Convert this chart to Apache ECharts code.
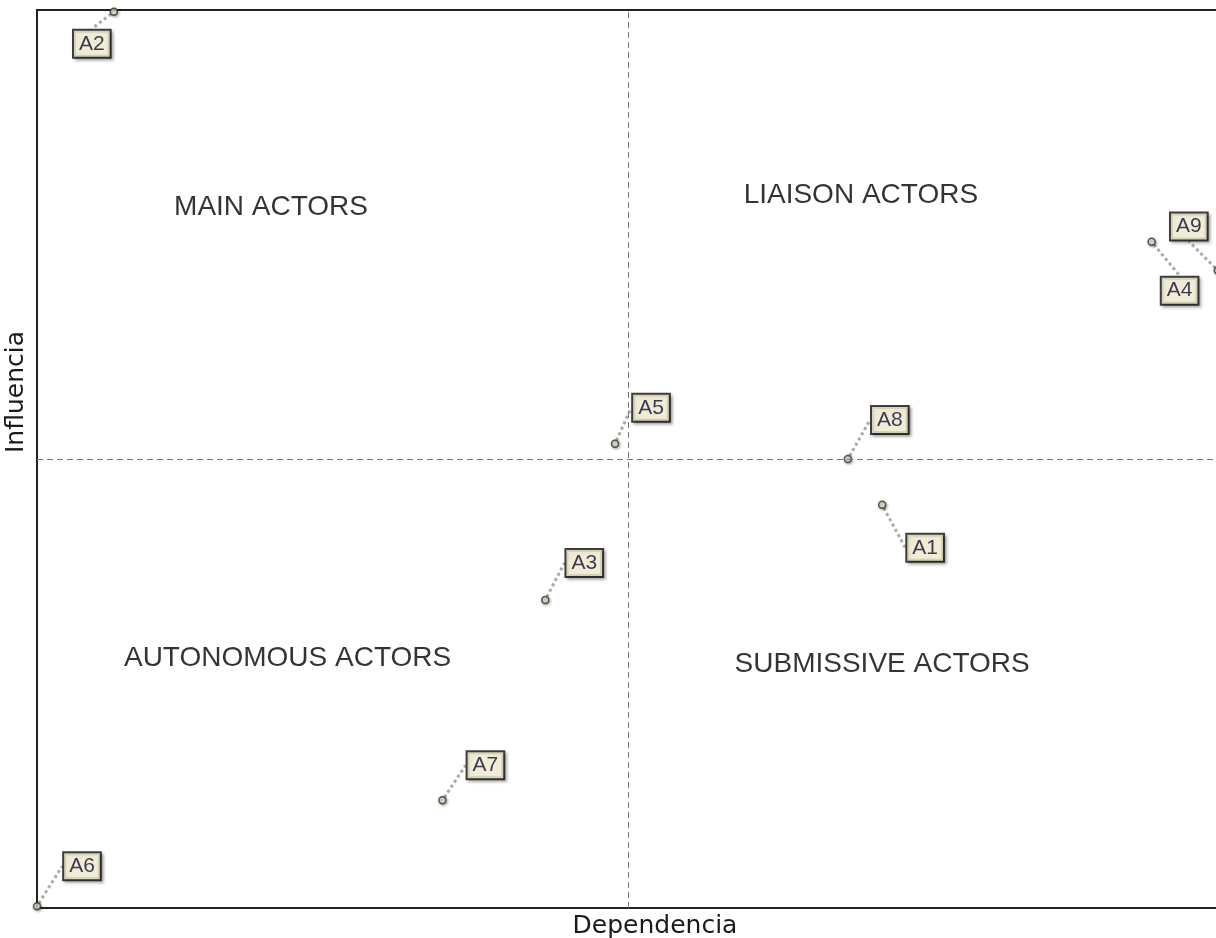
<!DOCTYPE html>
<html>
<head>
<meta charset="utf-8">
<script src="https://cdn.jsdelivr.net/npm/echarts@6/dist/echarts.min.js"></script>
<style>
  html, body { margin: 0; padding: 0; background: #fff; }
  #main { width: 1216px; height: 938px; }
</style>
</head>
<body>
<div id="main"></div>
<script>
// actors: dependence (x) and influence (y), 0-100 scale
var actorNames = ['A1', 'A2', 'A3', 'A4', 'A5', 'A6', 'A7', 'A8', 'A9'];
var dependencia = [71.5, 6.5, 43.0, 94.3, 48.9, 0.0, 34.3, 68.6, 99.9];
var influencia = [44.9, 99.8, 34.3, 74.2, 51.7, 0.2, 12.0, 50.0, 71.0];
// label offsets (px) from each point
var labelDx = [43, -22, 39, 28, 36, 45, 43, 42, -29];
var labelDy = [43, 32, -37, 49, -36, -40, -35, -39, -44];

var quadNames = ['MAIN ACTORS', 'LIAISON ACTORS', 'AUTONOMOUS ACTORS', 'SUBMISSIVE ACTORS'];
var quadX = [19.8, 69.7, 21.2, 71.5];
var quadY = [78.0, 79.4, 27.8, 27.1];

var myChart = echarts.init(document.getElementById('main'));

var pts = actorNames.map(function (n, i) {
    return { name: n, value: [dependencia[i], influencia[i]] };
});
var quads = quadNames.map(function (n, i) {
    return { name: n, value: [quadX[i], quadY[i]] };
});

var option = {
    backgroundColor: '#fff',
    animation: false,
    grid: {
        left: 37, top: 10, width: 1182, height: 898,
        outerBoundsMode: 'none', containLabel: false,
        show: true, borderColor: '#222', borderWidth: 2
    },
    xAxis: {
        type: 'value', min: 0, max: 100,
        name: 'Dependencia', nameLocation: 'middle', nameGap: 6,
        nameTextStyle: {
            fontFamily: 'DejaVu Sans', fontSize: 25, color: '#1a1a1a',
            verticalAlign: 'top', padding: [0, 0, 0, 54]
        },
        axisLine: { show: true, lineStyle: { color: '#222', width: 2 } },
        axisTick: { show: false }, axisLabel: { show: false }, splitLine: { show: false }
    },
    yAxis: {
        type: 'value', min: 0, max: 100,
        name: 'Influencia', nameLocation: 'middle', nameGap: 8,
        nameTextStyle: {
            fontFamily: 'DejaVu Sans', fontSize: 25, color: '#1a1a1a',
            verticalAlign: 'bottom', padding: [0, 0, 0, 134]
        },
        axisLine: { show: true, lineStyle: { color: '#222', width: 2 } },
        axisTick: { show: false }, axisLabel: { show: false }, splitLine: { show: false }
    },
    series: [
        {
            type: 'scatter',
            data: quads,
            symbolSize: 1,
            itemStyle: { color: 'rgba(255,255,255,0)' },
            silent: true,
            label: {
                show: true, position: 'inside',
                formatter: '{b}',
                fontFamily: 'Liberation Sans', fontSize: 28, color: '#000',
                textBorderWidth: 0
            },
            markLine: {
                silent: true, symbol: 'none',
                label: { show: false },
                lineStyle: { color: '#777', type: [6, 4], width: 1 },
                data: [{ xAxis: 50 }, { yAxis: 50 }]
            }
        },
        {
            type: 'scatter',
            data: pts,
            clip: false,
            symbol: 'circle',
            symbolSize: 7,
            itemStyle: {
                color: '#ecebd0', borderColor: '#333', borderWidth: 1.5,
                shadowColor: 'rgba(0,0,0,0.4)', shadowBlur: 3, shadowOffsetX: 1, shadowOffsetY: 1
            },
            label: {
                show: true, position: 'inside',
                formatter: '{b}',
                fontFamily: 'Liberation Sans', fontSize: 21, color: '#0c0c30',
                textBorderWidth: 0,
                backgroundColor: '#fff9dc', borderColor: '#111', borderWidth: 2,
                padding: [3, 5, 1, 5], lineHeight: 22,
                shadowColor: 'rgba(0,0,0,0.35)', shadowBlur: 3, shadowOffsetX: 2, shadowOffsetY: 2
            },
            labelLayout: function (p) {
                return { dx: labelDx[p.dataIndex], dy: labelDy[p.dataIndex] };
            },
            labelLine: {
                show: true,
                lineStyle: { color: '#aaa', type: 'dotted', width: 3 }
            }
        }
    ]
};
myChart.setOption(option);
window.onresize = myChart.resize;
</script>
</body>
</html>
